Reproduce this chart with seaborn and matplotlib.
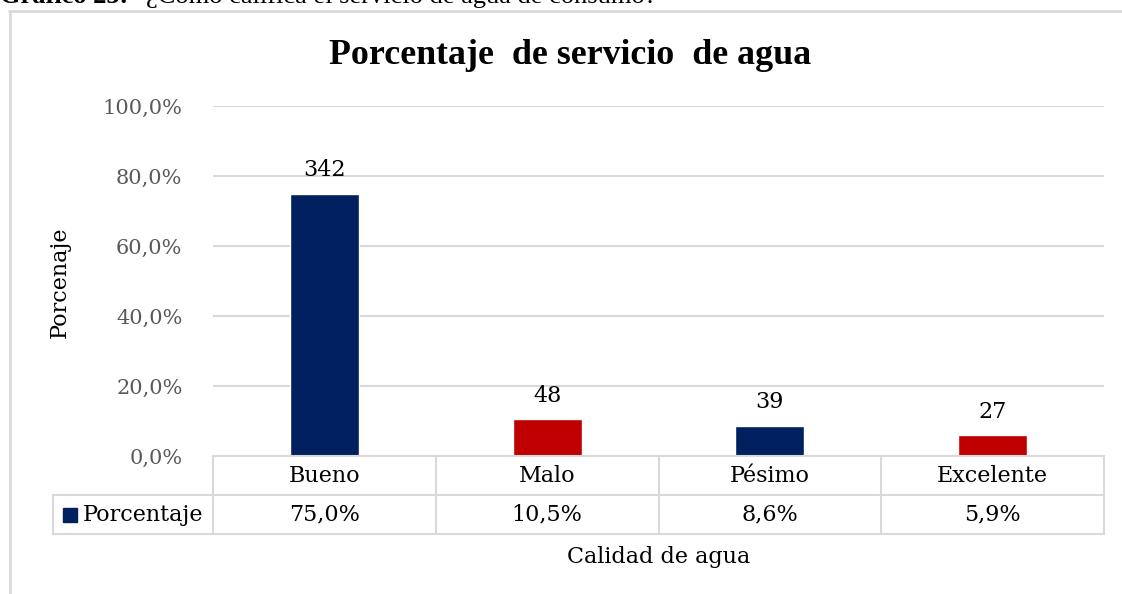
import matplotlib
matplotlib.use("Agg")
import matplotlib.pyplot as plt
import seaborn as sns
from matplotlib.lines import Line2D
from matplotlib.patches import Rectangle

# Data
categorias = ["Bueno", "Malo", "Pésimo", "Excelente"]
porcentajes = [0.750, 0.105, 0.086, 0.059]
frecuencias = [342, 48, 39, 27]
colores = ["#002060", "#C00000", "#002060", "#C00000"]
yticks = [0.0, 0.2, 0.4, 0.6, 0.8, 1.0]

times = ["Liberation Serif", "DejaVu Serif"]
body = ["DejaVu Serif"]
grid_color = "#D9D9D9"
fs = 16

sns.set_style("white")
plt.rcParams["font.family"] = body
plt.rcParams["text.color"] = "black"

W, H = 1122, 594
fig = plt.figure(figsize=(W / 100, H / 100), dpi=100)
ax = fig.add_axes([213 / W, 1 - 456 / H, (1104 - 213) / W, 350 / H])

sns.barplot(x=categorias, y=porcentajes, hue=categorias, palette=colores,
            width=0.31, legend=False, saturation=1, ax=ax)

ax.set_xlim(-0.5, 3.5)
ax.set_ylim(0, 1.0)
ax.set_yticks(yticks)
ax.set_yticklabels([f"{v * 100:.1f}%".replace(".", ",") for v in yticks],
                   fontsize=15, color="#595959")
ax.tick_params(axis="y", length=0, pad=22)
ax.set_xticks([])
ax.grid(axis="y", color=grid_color, linewidth=1.5)
ax.set_axisbelow(True)
for s in ax.spines.values():
    s.set_visible(False)
ax.set_xlabel("")
ax.set_ylabel("")

# Count labels above bars
for i, (p, n) in enumerate(zip(porcentajes, frecuencias)):
    ax.annotate(str(n), (i, p), xytext=(0, 9), textcoords="offset points",
                ha="center", va="bottom", fontsize=fs)

# Data table under the axis
row_h = 39 / 350
left_cell = -0.5 - 160 / 222.75
tr = ax.get_xaxis_transform()
lines = [
    ([-0.5, 3.5], [0, 0]),
    ([left_cell, 3.5], [-row_h, -row_h]),
    ([left_cell, 3.5], [-2 * row_h, -2 * row_h]),
    ([left_cell, left_cell], [-row_h, -2 * row_h]),
]
for b in [-0.5, 0.5, 1.5, 2.5, 3.5]:
    lines.append(([b, b], [0, -2 * row_h]))
for xs, ys in lines:
    ax.plot(xs, ys, color=grid_color, linewidth=1.5, transform=tr,
            clip_on=False, solid_capstyle="projecting")

for i, (c, p) in enumerate(zip(categorias, porcentajes)):
    ax.text(i, -row_h / 2, c, transform=tr, ha="center", va="center",
            fontsize=fs)
    ax.text(i, -1.5 * row_h, f"{p * 100:.1f}%".replace(".", ","),
            transform=tr, ha="center", va="center", fontsize=fs)

# Legend key in the table
ax.add_patch(Rectangle((left_cell + 10 / 222.75, -1.5 * row_h - 7 / 350),
                       14 / 222.75, 14 / 350, transform=tr,
                       color="#002060", clip_on=False))
ax.text(left_cell + 30 / 222.75, -1.5 * row_h, "Porcentaje", transform=tr,
        ha="left", va="center", fontsize=fs)

# Titles and axis labels
fig.text(570 / W, 1 - 55 / H, "Porcentaje  de servicio  de agua",
         ha="center", va="center", fontsize=25.8, fontweight="bold",
         family=times)
fig.text(60 / W, 1 - 282 / H, "Porcenaje", rotation=90, ha="center",
         va="center", fontsize=fs)
fig.text(659 / W, 1 - 557 / H, "Calidad de agua", ha="center", va="center",
         fontsize=fs)

# Cropped caption at the top
fig.text(0, 1 - 3 / H, "Gráfico 23:", ha="left", va="baseline",
         fontsize=19, fontweight="bold", family=times)
fig.text(146 / W, 1 - 3 / H, "¿Cómo califica el servicio de agua de consumo?",
         ha="left", va="baseline", fontsize=19, family=times)

# Chart frame
fig.add_artist(Line2D([9 / W, 1], [1 - 10.5 / H] * 2, color=grid_color,
                      linewidth=2, transform=fig.transFigure))
fig.add_artist(Line2D([9.5 / W] * 2, [0, 1 - 10.5 / H], color=grid_color,
                      linewidth=2, transform=fig.transFigure))

fig.savefig("out.png", dpi=100)
